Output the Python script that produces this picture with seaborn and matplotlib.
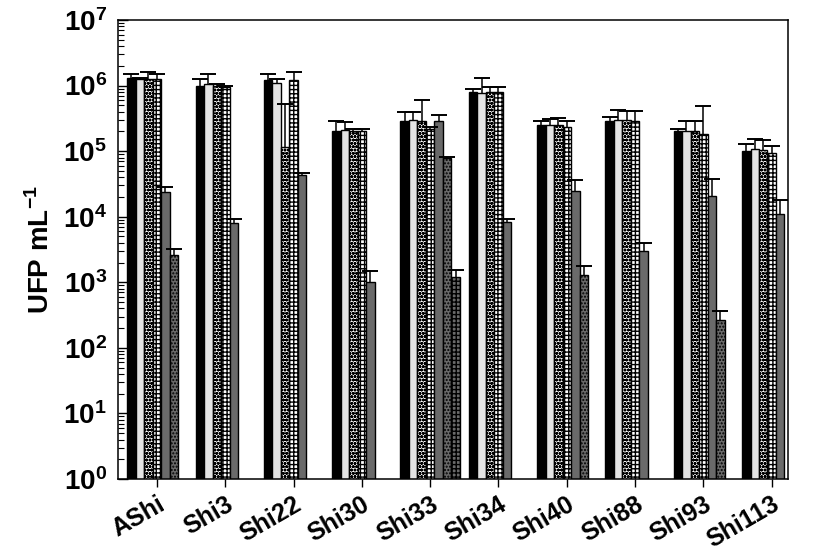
import matplotlib
matplotlib.use('Agg')
import matplotlib.pyplot as plt
import seaborn as sns
import numpy as np
import pandas as pd

# Data (UFP per mL, log scale)
strains = ['AShi', 'Shi3', 'Shi22', 'Shi30', 'Shi33', 'Shi34', 'Shi40', 'Shi88', 'Shi93', 'Shi113']
series = ['S1', 'S2', 'S3', 'S4', 'S5', 'S6', 'S7']
nan = np.nan

s1 = [1.3e6, 9.8e5, 1.2e6, 2.0e5, 2.9e5, 8.0e5, 2.5e5, 2.9e5, 2.0e5, 1.0e5]
s2 = [1.24e6, 1.07e6, 1.1e6, 2.08e5, 3.0e5, 7.7e5, 2.5e5, 3.0e5, 2.05e5, 1.07e5]
s3 = [1.27e6, 1.0e6, 1.17e5, 2.0e5, 2.9e5, 8.0e5, 2.5e5, 3.0e5, 2.0e5, 1.05e5]
s4 = [1.27e6, 9.6e5, 1.2e6, 2.0e5, 2.2e5, 8.0e5, 2.3e5, 2.9e5, 1.85e5, 9.4e4]
s5 = [2.4e4, 8.1e3, 4.4e4, 1.0e3, 2.9e5, 8.2e3, 2.5e4, 3.0e3, 2.1e4, 1.1e4]
s6 = [2.6e3, nan, nan, nan, 8.0e4, nan, 1.27e3, nan, 2.7e2, nan]
s7 = [nan, nan, nan, nan, 1.2e3, nan, nan, nan, nan, nan]

# upper end of the error bars
e1 = [1.5e6, 1.27e6, 1.48e6, 2.9e5, 4.0e5, 8.9e5, 2.9e5, 3.3e5, 2.2e5, 1.3e5]
e2 = [1.3e6, 1.48e6, 1.27e6, 2.8e5, 4.0e5, 1.3e6, 3.1e5, 4.3e5, 2.9e5, 1.55e5]
e3 = [1.6e6, 1.05e6, 5.3e5, 2.2e5, 6.0e5, 9.5e5, 3.15e5, 4.1e5, 2.9e5, 1.48e5]
e4 = [1.48e6, 9.9e5, 1.6e6, 2.2e5, 2.3e5, 9.5e5, 2.9e5, 4.1e5, 4.9e5, 1.2e5]
e5 = [2.8e4, 9.3e3, 4.7e4, 1.5e3, 3.6e5, 9.2e3, 3.6e4, 4.0e3, 3.8e4, 1.77e4]
e6 = [3.2e3, nan, nan, nan, 8.2e4, nan, 1.8e3, nan, 3.6e2, nan]
e7 = [nan, nan, nan, nan, 1.55e3, nan, nan, nan, nan, nan]

values = [s1, s2, s3, s4, s5, s6, s7]
caps = [e1, e2, e3, e4, e5, e6, e7]

colors = ['black', '#e4e4e4', 'white', 'white', '#6a6a6a', '#6a6a6a', '#6a6a6a']
hatches = [None, None, 'ooooo', '++++', None, '.....', '++++']

rows = []
for name, vals in zip(series, values):
    for strain, v in zip(strains, vals):
        rows.append({'strain': strain, 'series': name, 'ufp': v})
df = pd.DataFrame(rows)

plt.rcParams['font.family'] = ['Liberation Sans', 'DejaVu Sans']
plt.rcParams['font.weight'] = 'bold'
plt.rcParams['mathtext.fontset'] = 'custom'
plt.rcParams['mathtext.rm'] = 'Liberation Sans:bold'
plt.rcParams['mathtext.bf'] = 'Liberation Sans:bold'
plt.rcParams['hatch.linewidth'] = 1.0

fig, ax = plt.subplots(figsize=(8.34, 5.56), dpi=100)
fig.subplots_adjust(left=0.1415, right=0.945, bottom=0.1385, top=0.964)

sns.barplot(data=df, x='strain', y='ufp', hue='series', order=strains,
            hue_order=series, palette=colors, width=0.87, edgecolor='black',
            linewidth=1, errorbar=None, legend=False, ax=ax)
ax.set_yscale('log')

# hatch patterns + upper error bars
for k, cont in enumerate(ax.containers):
    for bar in cont:
        if hatches[k]:
            bar.set_hatch(hatches[k])
        xc = bar.get_x() + bar.get_width() / 2
        top = bar.get_y() + bar.get_height()
        g = int(round(xc))
        c = caps[k][g]
        if np.isnan(c) or np.isnan(top):
            continue
        ax.vlines(xc, top, c, color='black', lw=1.1, zorder=5)
        ax.plot([xc], [c], marker='_', markersize=12, mew=1.4, color='black', zorder=5)

ax.set_ylim(1, 1e7)
ax.set_xlim(-0.57, 9.24)
decades = np.arange(0, 8)
ax.set_yticks(10.0 ** decades)
ax.set_yticklabels([r'$\mathbf{10^{%d}}$' % d for d in decades], fontsize=20)
ax.yaxis.set_minor_locator(matplotlib.ticker.LogLocator(base=10, subs=np.arange(2, 10), numticks=20))
ax.yaxis.set_minor_formatter(matplotlib.ticker.NullFormatter())
ax.tick_params(axis='y', which='major', direction='in', length=7, width=1, pad=8)
ax.tick_params(axis='y', which='minor', direction='in', length=4, width=0.8)
ax.tick_params(axis='x', direction='out', length=6, width=1)

ax.set_xticks(range(len(strains)))
ax.set_xticklabels(strains, rotation=30, ha='right', rotation_mode='anchor',
                   fontsize=18, fontweight='bold')
ax.set_xlabel('')
ax.set_ylabel(r'UFP mL$^{\mathbf{-1}}$', fontsize=20, fontweight='bold', labelpad=6)

for sp in ax.spines.values():
    sp.set_linewidth(1.1)

plt.savefig('out.png', dpi=100)
plt.close()
